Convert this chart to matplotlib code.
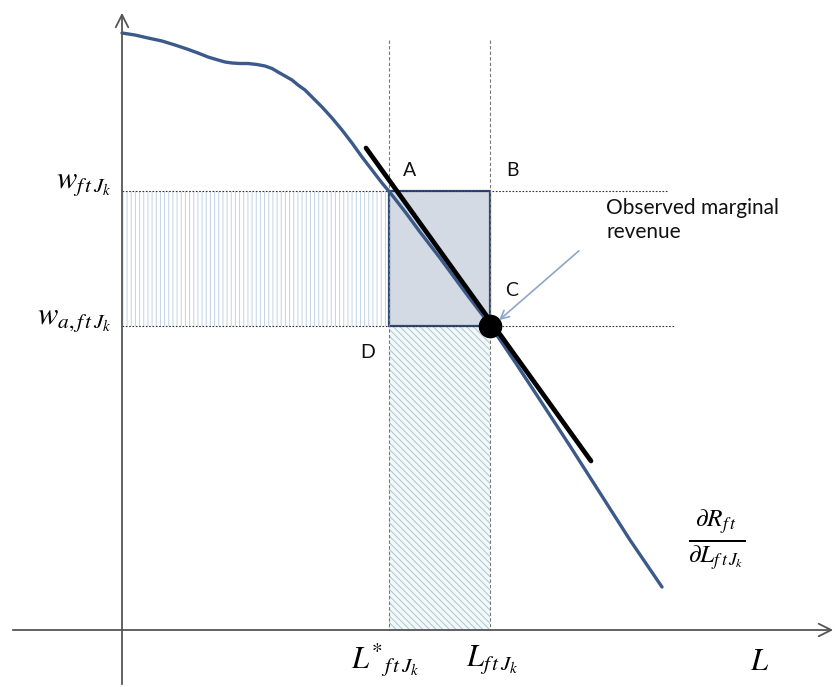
import numpy as np
import matplotlib.pyplot as plt
from matplotlib.patches import Rectangle

plt.rcParams['mathtext.fontset'] = 'stix'
plt.rcParams['hatch.linewidth'] = 0.7

# diagram drawn in image-like units (x right, y down)
curve_x = [122, 135, 148, 162, 175, 187, 198, 208, 218, 225, 232, 240, 248, 257, 265,
           272, 278, 285, 292, 298, 305, 313, 322, 332, 342, 352, 362, 372, 382, 392,
           406, 420, 440, 465, 490, 515, 540, 570, 600, 630, 662]
curve_y = [33, 35, 38, 41, 45, 49, 53, 57, 60, 62, 63, 63.5, 63.5, 64.5, 66,
           68.5, 72, 76, 80, 85, 90, 98, 107, 118, 130, 143, 157, 170, 183, 195,
           213, 232, 258, 292, 325, 362, 400, 446, 493, 540, 587]

origin_x, axis_y = 122, 630
L_star, L_obs = 389, 490
w_high, w_low = 191, 326
tangent_x = [366, 591]
tangent_y = [148, 461]

point_labels = ['A', 'B', 'C', 'D']
point_pos = [(410, 170), (512, 170), (512, 290), (368, 352)]

fig = plt.figure(figsize=(8.36, 6.87), dpi=100)
ax = fig.add_axes([0, 0, 1, 1])
ax.set_xlim(0, 836)
ax.set_ylim(687, 0)
ax.axis('off')

# shaded regions
ax.add_patch(Rectangle((origin_x, w_high), L_star - origin_x, w_low - w_high,
                       facecolor='white', edgecolor='#c2d3e6', hatch='||||', lw=0))
ax.add_patch(Rectangle((L_star, w_low), L_obs - L_star, axis_y - w_low,
                       facecolor='#f3f8f9', edgecolor='#a9c6d3', hatch='\\\\\\\\\\', lw=0))
ax.add_patch(Rectangle((L_star, w_high), L_obs - L_star, w_low - w_high,
                       facecolor='#d4dae3', edgecolor='#2e4a78', lw=1.6))

# guide lines
ax.plot([origin_x, 668], [w_high, w_high], color='#333333', ls=(0, (1.5, 1.5)), lw=0.8)
ax.plot([origin_x, 675], [w_low, w_low], color='#333333', ls=(0, (1.5, 1.5)), lw=0.8)
for xv in (L_star, L_obs):
    ax.plot([xv, xv], [40, axis_y], color='#777777', ls=(0, (3, 2)), lw=0.8)

# axes arrows
ax.annotate('', xy=(836, axis_y), xytext=(10, axis_y),
            arrowprops=dict(arrowstyle='->,head_length=0.9,head_width=0.45', color='#555555', lw=1.3))
ax.annotate('', xy=(origin_x, 10), xytext=(origin_x, 687),
            arrowprops=dict(arrowstyle='->,head_length=0.9,head_width=0.45', color='#555555', lw=1.3))

# marginal revenue curve and tangent
ax.plot(curve_x, curve_y, color='#3b5a8a', lw=2.4, solid_capstyle='round', solid_joinstyle='round')
ax.plot(tangent_x, tangent_y, color='black', lw=3.4, solid_capstyle='round')
ax.plot([L_obs], [w_low], 'o', color='black', ms=16)

ax.annotate('', xy=(497, 322), xytext=(581, 249),
            arrowprops=dict(arrowstyle='->,head_length=0.6,head_width=0.3', color='#8ea6c8', lw=1.2))

for lab, (px, py) in zip(point_labels, point_pos):
    ax.text(px, py, lab, fontsize=14, family='Lato', ha='center', va='center', color='#111111')

ax.text(606, 220, 'Observed marginal\nrevenue', fontsize=15, family='Lato', ha='left', va='center',
        color='#111111', linespacing=1.25)

ax.text(112, 184, r'$w_{f\,t\,J_k}$', fontsize=22, ha='right', va='center')
ax.text(112, 320, r'$w_{a,f\,t\,J_k}$', fontsize=22, ha='right', va='center')
ax.text(385, 660, r'$L^{*}{}_{f\,t\,J_k}$', fontsize=22, ha='center', va='center')
ax.text(492, 660, r'$L_{f\,t\,J_k}$', fontsize=22, ha='center', va='center')
ax.text(760, 662, r'$L$', fontsize=22, ha='center', va='center')
ax.text(717, 540, r'$\frac{\partial R_{f\,t}}{\partial L_{f\,t\,J_k}}$', fontsize=26, ha='center', va='center')

fig.savefig('out.png', dpi=100)
